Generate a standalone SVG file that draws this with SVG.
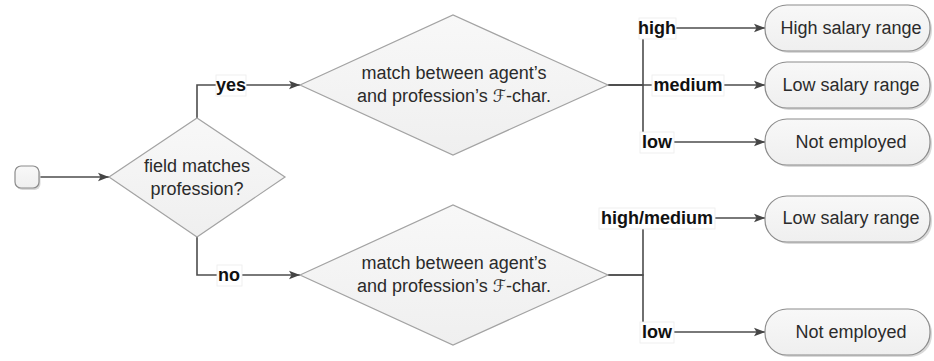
<svg xmlns="http://www.w3.org/2000/svg" width="934" height="361" viewBox="0 0 934 361">
  <defs>
    <linearGradient id="shapeFill" x1="0" y1="0" x2="0" y2="1">
      <stop offset="0" stop-color="#f8f8f8"/>
      <stop offset="1" stop-color="#efefef"/>
    </linearGradient>
    <marker id="arrow" markerUnits="userSpaceOnUse" markerWidth="12" markerHeight="10" refX="11" refY="5" orient="auto">
      <path d="M0,0.8 L11,5 L0,9.2 L2.5,5 Z" fill="#454545"/>
    </marker>
  </defs>
  <style>
    .bg { fill: #ffffff; }
    .diamond { fill: url(#shapeFill); stroke: #a3a3a3; stroke-width: 1.2; }
    .term { fill: url(#shapeFill); stroke: #8c8c8c; stroke-width: 1.2; }
    .shadow { fill: #d9d9d9; }
    .txt { font-family: "Liberation Sans", Arial, sans-serif; font-size: 18px; fill: #2b2b2b; text-anchor: middle; }
    .script { font-family: "DejaVu Sans", "DejaVu Serif", serif; font-style: italic; font-size: 17px; }
    .edge { fill: none; stroke: #4d4d4d; stroke-width: 1.6; }
    .lblbox { fill: #ffffff; stroke: #ececec; stroke-width: 0.8; }
    .lbl { font-family: "Liberation Sans", Arial, sans-serif; font-size: 18px; font-weight: bold; fill: #111111; text-anchor: middle; }
  </style>

  <rect class="bg" x="0" y="0" width="934" height="361"/>

  <!-- connectors -->
  <g id="connectors">
    <path class="edge" d="M39,177 H109" marker-end="url(#arrow)"/>
    <path class="edge" d="M197,118 V85 H300" marker-end="url(#arrow)"/>
    <path class="edge" d="M197,237 V275 H300" marker-end="url(#arrow)"/>
    <path class="edge" d="M608,85 H643 V28 H765" marker-end="url(#arrow)"/>
    <path class="edge" d="M608,85 H765" marker-end="url(#arrow)"/>
    <path class="edge" d="M608,85 H643 V142 H765" marker-end="url(#arrow)"/>
    <path class="edge" d="M608,275 H643 V218 H765" marker-end="url(#arrow)"/>
    <path class="edge" d="M608,275 H643 V332 H765" marker-end="url(#arrow)"/>

    <!-- branch labels -->
    <g id="label-yes">
      <rect class="lblbox" x="216" y="75" width="30" height="21"/>
      <text class="lbl" x="231" y="91">yes</text>
    </g>
    <g id="label-no">
      <rect class="lblbox" x="217" y="265" width="25" height="21"/>
      <text class="lbl" x="229" y="281">no</text>
    </g>
    <g id="label-high">
      <rect class="lblbox" x="639" y="18" width="37" height="21"/>
      <text class="lbl" x="657" y="34">high</text>
    </g>
    <g id="label-medium">
      <rect class="lblbox" x="652" y="75" width="72" height="21"/>
      <text class="lbl" x="688" y="91">medium</text>
    </g>
    <g id="label-low">
      <rect class="lblbox" x="640" y="132" width="34" height="21"/>
      <text class="lbl" x="657" y="148">low</text>
    </g>
    <g id="label-highmedium">
      <rect class="lblbox" x="599" y="208" width="116" height="21"/>
      <text class="lbl" x="657" y="224">high/medium</text>
    </g>
    <g id="label-low2">
      <rect class="lblbox" x="640" y="322" width="34" height="21"/>
      <text class="lbl" x="657" y="338">low</text>
    </g>
  </g>

  <!-- start -->
  <g id="start">
    <rect class="shadow" x="16.5" y="168" width="24" height="22" rx="6"/>
    <rect class="term" x="15" y="166" width="24" height="22" rx="6"/>
  </g>

  <!-- decisions -->
  <g id="field-match">
    <polygon class="diamond" points="109,177 197,118 285,177 197,237"/>
    <text class="txt" x="197" y="172">field matches</text>
    <text class="txt" x="197" y="195">profession?</text>
  </g>

  <g id="char-match-yes">
    <polygon class="diamond" points="300,85 453,15 608,85 453,155"/>
    <text class="txt" x="454" y="79">match between agent’s</text>
    <text class="txt" x="454" y="102">and profession’s <tspan class="script">ℱ</tspan>-char.</text>
  </g>

  <g id="char-match-no">
    <polygon class="diamond" points="300,275 453,205 608,275 453,345"/>
    <text class="txt" x="454" y="269">match between agent’s</text>
    <text class="txt" x="454" y="292">and profession’s <tspan class="script">ℱ</tspan>-char.</text>
  </g>

  <!-- outcomes -->
  <g id="out-high">
    <rect class="shadow" x="767" y="7" width="165" height="46" rx="22"/>
    <rect class="term" x="765" y="5" width="165" height="46" rx="22"/>
    <text class="txt" x="851" y="34">High salary range</text>
  </g>
  <g id="out-low">
    <rect class="shadow" x="767" y="64" width="165" height="46" rx="22"/>
    <rect class="term" x="765" y="62" width="165" height="46" rx="22"/>
    <text class="txt" x="851" y="91">Low salary range</text>
  </g>
  <g id="out-none">
    <rect class="shadow" x="767" y="121" width="165" height="46" rx="22"/>
    <rect class="term" x="765" y="119" width="165" height="46" rx="22"/>
    <text class="txt" x="851" y="148">Not employed</text>
  </g>
  <g id="out-low2">
    <rect class="shadow" x="767" y="198" width="165" height="46" rx="22"/>
    <rect class="term" x="765" y="196" width="165" height="46" rx="22"/>
    <text class="txt" x="851" y="224">Low salary range</text>
  </g>
  <g id="out-none2">
    <rect class="shadow" x="767" y="311" width="165" height="46" rx="22"/>
    <rect class="term" x="765" y="309" width="165" height="46" rx="22"/>
    <text class="txt" x="851" y="338">Not employed</text>
  </g>
</svg>
